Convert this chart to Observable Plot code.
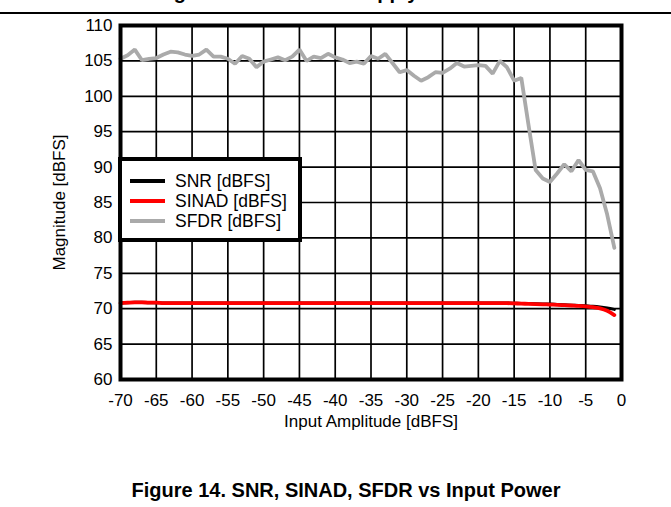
<!DOCTYPE html>
<html>
<head>
<meta charset="utf-8">
<script src="https://cdn.jsdelivr.net/npm/d3@7"></script>
<script src="https://cdn.jsdelivr.net/npm/@observablehq/plot@0.6"></script>
<style>
  html, body { margin: 0; padding: 0; background: #fff; }
  body { width: 671px; height: 507px; overflow: hidden; font-family: "Liberation Sans", Arial, sans-serif; }
  #wrap { position: relative; width: 671px; height: 507px; }
  #toptitle { position: absolute; left: 156px; top: -20px; white-space: nowrap; font-weight: bold; font-size: 20px; line-height: 24px; }
  #topline { position: absolute; left: 0; top: 12px; width: 671px; height: 2px; background: #000; }
  #chart { position: absolute; left: 0; top: 0; }
  #legend { position: absolute; left: 118px; top: 157px; width: 176px; height: 77px; border: 4px solid #000; background: #fff; }
  .row { position: absolute; left: 0; height: 20px; width: 100%; }
  .sw { position: absolute; left: 8px; width: 35px; height: 4px; }
  .lt { position: absolute; left: 53px; font-size: 17.5px; line-height: 20px; white-space: nowrap; }
  #caption { position: absolute; left: 0; width: 692px; top: 478px; text-align: center; font-weight: bold; font-size: 20px; line-height: 24px; white-space: nowrap; }
</style>
</head>
<body>
<div id="wrap">
  <div id="toptitle">Figure 13. SINAD vs Supply</div>
  <div id="topline"></div>
  <div id="chart"></div>
  <div id="legend"></div>
  <div id="caption">Figure 14. SNR, SINAD, SFDR vs Input Power</div>
</div>
<script>
// Input amplitude [dBFS]
const inputAmp = [-70,-69,-68,-67,-66,-65,-64,-63,-62,-61,-60,-59,-58,-57,-56,-55,-54,-53,-52,-51,
  -50,-49,-48,-47,-46,-45,-44,-43,-42,-41,-40,-39,-38,-37,-36,-35,-34,-33,-32,-31,
  -30,-29,-28,-27,-26,-25,-24,-23,-22,-21,-20,-19,-18,-17,-16,-15,-14,-13,-12,-11,
  -10,-9,-8,-7,-6,-5,-4,-3,-2,-1];
const snr = [70.8,70.85,70.9,70.9,70.85,70.85,70.8,70.8,70.8,70.8,70.8,70.8,70.8,70.8,70.8,70.8,70.8,70.8,70.8,70.8,
  70.8,70.8,70.8,70.8,70.8,70.8,70.8,70.8,70.8,70.8,70.8,70.8,70.8,70.8,70.8,70.8,70.8,70.8,70.8,70.8,
  70.8,70.8,70.8,70.8,70.8,70.8,70.8,70.8,70.8,70.8,70.8,70.8,70.8,70.8,70.8,70.78,70.75,70.72,70.7,70.68,
  70.65,70.6,70.55,70.5,70.45,70.4,70.35,70.25,70.1,69.9];
const sinad = [70.8,70.85,70.9,70.9,70.85,70.85,70.8,70.8,70.8,70.8,70.8,70.8,70.8,70.8,70.8,70.8,70.8,70.8,70.8,70.8,
  70.8,70.8,70.8,70.8,70.8,70.8,70.8,70.8,70.8,70.8,70.8,70.8,70.8,70.8,70.8,70.8,70.8,70.8,70.8,70.8,
  70.8,70.8,70.8,70.8,70.8,70.8,70.8,70.8,70.8,70.8,70.8,70.8,70.8,70.8,70.78,70.75,70.72,70.68,70.65,70.62,
  70.58,70.55,70.5,70.45,70.4,70.33,70.22,70.05,69.7,69.1];
const sfdr = [105.3,105.8,106.6,105.1,105.3,105.4,105.9,106.3,106.2,105.9,105.7,105.9,106.6,105.6,105.6,105.3,104.6,105.7,105.3,104.1,
  104.9,105.2,105.5,105.1,105.6,106.6,105.0,105.6,105.4,106.0,105.5,105.2,104.7,104.9,104.6,105.7,105.3,106.0,104.7,103.4,
  103.7,102.9,102.2,102.7,103.4,103.3,103.9,104.7,104.2,104.3,104.4,104.3,103.2,105.0,104.1,102.2,102.6,96.0,89.6,88.4,
  87.9,89.1,90.4,89.4,91.0,89.6,89.4,87.0,83.3,78.6];
const xTicks = [-70,-65,-60,-55,-50,-45,-40,-35,-30,-25,-20,-15,-10,-5,0];
const yTicks = [60,65,70,75,80,85,90,95,100,105,110];
const seriesNames = ["SNR [dBFS]", "SINAD [dBFS]", "SFDR [dBFS]"];
const seriesColors = ["#000000", "#ff0000", "#aaaaaa"];

const rows = inputAmp.map((x, i) => ({x, snr: snr[i], sinad: sinad[i], sfdr: sfdr[i]}));

const plot = Plot.plot({
  width: 671,
  height: 440,
  marginLeft: 120,
  marginRight: 50,
  marginTop: 25,
  marginBottom: 61,
  style: {fontFamily: "Liberation Sans, Arial, sans-serif", fontSize: "17px", color: "#000", background: "transparent"},
  x: {domain: [-70, 0]},
  y: {domain: [60, 110]},
  marks: [
    Plot.gridX(xTicks, {stroke: "#000", strokeOpacity: 1, strokeWidth: 1.7}),
    Plot.gridY(yTicks, {stroke: "#000", strokeOpacity: 1, strokeWidth: 1.7}),
    Plot.line(rows, {x: "x", y: "sfdr", stroke: seriesColors[2], strokeWidth: 3.8, strokeLinejoin: "miter"}),
    Plot.line(rows, {x: "x", y: "snr", stroke: seriesColors[0], strokeWidth: 3, curve: "monotone-x"}),
    Plot.line(rows, {x: "x", y: "sinad", stroke: seriesColors[1], strokeWidth: 3.8, curve: "monotone-x"}),
    Plot.frame({stroke: "#000", strokeWidth: 4}),
    Plot.axisX(xTicks, {tickSize: 0, tickPadding: 14, fontSize: 17, tickFormat: d => String(d), label: "Input Amplitude [dBFS]", labelAnchor: "center", labelOffset: 47, labelArrow: "none"}),
    Plot.axisY(yTicks, {tickSize: 0, tickPadding: 8, fontSize: 17, tickFormat: d => String(d), label: "Magnitude [dBFS]", labelAnchor: "center", labelOffset: 68, labelArrow: "none"})
  ]
});
document.getElementById("chart").appendChild(plot);

const legend = document.getElementById("legend");
const rowTops = [10, 30, 50];
seriesNames.forEach((name, i) => {
  const r = document.createElement("div");
  r.className = "row";
  r.style.top = rowTops[i] + "px";
  const sw = document.createElement("div");
  sw.className = "sw";
  sw.style.background = seriesColors[i];
  sw.style.top = "8px";
  const t = document.createElement("div");
  t.className = "lt";
  t.style.top = "0px";
  t.textContent = name;
  r.appendChild(sw); r.appendChild(t);
  legend.appendChild(r);
});
</script>
</body>
</html>
